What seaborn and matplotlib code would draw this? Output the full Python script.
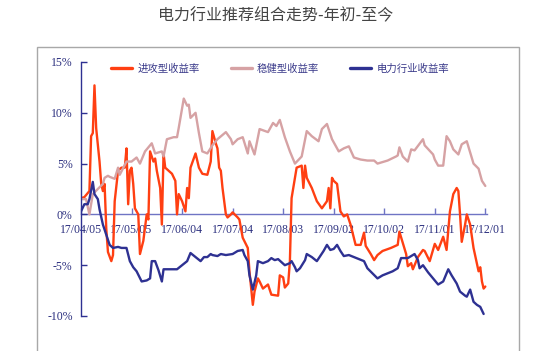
import numpy as np
import pandas as pd
import matplotlib
matplotlib.use("Agg")
import matplotlib.pyplot as plt
import matplotlib.dates as mdates
from matplotlib.patches import Rectangle
from matplotlib.ticker import FuncFormatter
import seaborn as sns

# ---------------- data (days since 2017-04-05, return in %) ----------------
start_date = "2017-04-05"

attack_days = [0, 2, 5, 6, 7, 8, 9, 11, 12, 13, 14, 15, 16, 18, 19, 20, 22, 24, 26, 27,
               28, 29, 30, 31, 32, 34, 35, 37, 39, 40, 41, 43, 44, 45, 47, 48, 49, 50, 52, 54,
               56, 57, 58, 60, 62, 63, 64, 65, 68, 70, 72, 75, 77, 78, 80, 81, 82, 83, 84, 86,
               87, 89, 90, 93, 94, 96, 99, 100, 102, 103, 105, 106, 108, 111, 113, 117, 118, 120, 121, 123,
               124, 125, 127, 128, 131, 132, 133, 134, 137, 140, 143, 146, 147, 148, 149, 150, 152, 154, 156, 158,
               160, 163, 166, 168, 169, 172, 174, 176, 179, 184, 188, 189, 191, 193, 194, 196, 197, 200, 203, 204,
               207, 210, 212, 215, 217, 219, 221, 223, 224, 225, 226, 228, 229, 231, 233, 235, 236, 237, 238, 239, 240]
attack_ret = [1.6, 1.7, 2.3, 7.7, 8.0, 12.7, 8.5, 5.2, 3.0, 2.3, 3.0, -1.4, -3.7, -4.6, -4.0, 1.3, 4.3, 4.6, 4.6, 6.5,
              1.0, 4.3, 4.6, 3.0, 0.6, 0.0, -3.9, -2.6, 0.0, -0.5, 6.2, 5.2, 5.5, 4.3, 2.6, -1.0, 6.0, 4.6, 4.3, 4.0,
              3.3, 0.0, 2.0, 1.3, 0.3, 2.6, 1.6, 4.6, 6.0, 4.6, 4.0, 3.9, 5.2, 8.2, 7.0, 6.5, 4.6, 4.3, 2.6, 0.0,
              -0.3, 0.0, 0.2, -0.3, -0.5, -2.3, -3.3, -5.6, -8.9, -7.6, -6.3, -6.6, -7.3, -6.9, -7.9, -8.0, -6.0, -6.2, -7.2, -6.8,
              -4.6, 1.6, 3.6, 4.6, 4.8, 2.6, 4.8, 3.6, 2.6, 1.3, 0.6, 1.3, 2.6, 0.6, 3.6, 3.3, 3.0, 0.3, -0.2, 0.0,
              -1.0, -3.0, -3.0, -1.8, -3.1, -3.9, -4.5, -4.0, -3.6, -3.3, -3.0, -1.7, -2.8, -3.9, -5.1, -4.8, -5.4, -4.2, -3.5, -3.6,
              -4.6, -2.9, -3.5, -2.2, -3.5, 0.3, 2.0, 2.6, 2.3, 0.0, -2.7, -1.0, 0.0, -1.0, -3.3, -4.8, -5.6, -5.2, -6.6, -7.3, -7.1]

steady_days = [0, 3, 5, 7, 10, 13, 14, 16, 17, 20, 22, 23, 27, 30, 33, 35, 38, 42, 44, 48,
               49, 51, 55, 57, 58, 61, 63, 64, 65, 68, 70, 72, 75, 78, 81, 86, 89, 90, 93, 96,
               99, 100, 103, 106, 111, 114, 116, 118, 121, 124, 127, 131, 134, 137, 141, 143, 146, 149, 153, 156,
               159, 162, 166, 170, 174, 176, 182, 187, 188, 189, 191, 194, 196, 198, 203, 204, 209, 210, 212, 215,
               217, 219, 221, 224, 226, 229, 231, 233, 236, 238, 240]
steady_ret = [1.5, 1.5, 0.0, 2.0, 2.5, 3.0, 3.6, 3.8, 3.7, 3.5, 4.6, 3.9, 5.2, 5.2, 5.6, 5.0, 6.2, 7.0, 6.0, 6.2,
              5.7, 7.4, 7.6, 7.6, 8.5, 11.4, 10.7, 10.8, 9.5, 10.0, 8.0, 6.2, 6.0, 6.8, 7.4, 8.1, 7.4, 6.9, 7.4, 7.6,
              6.0, 7.2, 5.9, 8.4, 8.1, 9.0, 8.7, 9.3, 7.6, 6.2, 5.0, 5.7, 8.2, 7.7, 7.2, 8.4, 8.9, 7.4, 6.2, 6.5,
              6.7, 5.6, 5.4, 5.3, 5.3, 5.0, 5.3, 5.7, 5.8, 6.6, 5.7, 5.2, 6.4, 6.3, 7.4, 6.8, 5.9, 5.4, 4.8, 4.8,
              7.7, 7.2, 6.4, 5.9, 6.9, 7.2, 6.1, 5.0, 4.5, 3.3, 2.8]

power_days = [0, 2, 4, 5, 7, 8, 10, 11, 13, 15, 17, 19, 22, 24, 27, 29, 31, 33, 36, 39,
              41, 42, 44, 46, 48, 49, 53, 57, 60, 63, 65, 68, 71, 73, 75, 77, 78, 81, 83, 86,
              90, 93, 96, 97, 99, 100, 102, 104, 105, 108, 111, 113, 115, 117, 119, 121, 124, 125, 127, 128,
              130, 133, 134, 137, 140, 142, 144, 146, 148, 150, 152, 154, 156, 159, 162, 165, 168, 170, 173, 176,
              179, 182, 185, 188, 190, 194, 196, 198, 200, 201, 203, 206, 209, 212, 215, 218, 220, 223, 225, 228,
              229, 231, 233, 235, 237, 239]
power_ret = [0.3, 1.0, 1.0, 1.5, 3.2, 2.0, 1.5, 0.5, -1.0, -2.0, -3.0, -3.3, -3.2, -3.3, -3.3, -4.6, -5.2, -5.6, -6.6, -6.5,
             -6.3, -4.6, -4.6, -5.5, -6.6, -5.4, -5.4, -5.4, -5.0, -4.6, -3.8, -4.2, -4.6, -4.2, -4.2, -3.9, -4.0, -4.1, -3.9, -4.0,
             -3.9, -3.6, -3.5, -4.0, -4.6, -6.0, -7.4, -6.0, -4.6, -4.8, -4.6, -4.3, -4.5, -4.4, -4.7, -5.0, -4.8, -4.6, -5.2, -5.6,
             -5.3, -4.5, -3.9, -4.2, -4.6, -4.1, -3.6, -3.0, -3.5, -3.4, -3.0, -3.6, -4.1, -4.0, -4.2, -4.4, -4.6, -5.3, -5.8, -6.3,
             -6.0, -5.8, -5.6, -5.3, -4.3, -4.3, -4.1, -3.9, -4.5, -5.3, -5.0, -5.7, -6.3, -6.9, -6.6, -5.4, -6.0, -6.8, -7.6, -8.0,
             -8.1, -7.4, -8.6, -8.9, -9.1, -9.8]

series_names = ["进攻型收益率", "稳健型收益率", "电力行业收益率"]
series_colors = ["#FF3F12", "#D6A2A4", "#2E3192"]
tick_labels = ["17/04/05", "17/05/05", "17/06/04", "17/07/04", "17/08/03",
               "17/09/02", "17/10/02", "17/11/01", "17/12/01"]
y_ticks = [-10, -5, 0, 5, 10, 15]
title = "电力行业推荐组合走势-年初-至今"

# ---------------- build long table ----------------
t0 = pd.Timestamp(start_date)
frames = []
for name, d, r in zip(series_names,
                      [attack_days, steady_days, power_days],
                      [attack_ret, steady_ret, power_ret]):
    frames.append(pd.DataFrame({"date": t0 + pd.to_timedelta(d, unit="D"),
                                "ret": r, "series": name}))
df = pd.concat(frames, ignore_index=True)

# ---------------- style ----------------
sns.set_style("white")
plt.rcParams["font.family"] = ["Noto Sans CJK SC", "DejaVu Sans"]

W, H = 559, 351
fig = plt.figure(figsize=(W / 100, H / 100), dpi=100)
ax = fig.add_axes([81 / W, 1 - 316 / H, (487 - 81) / W, (316 - 62) / H])

sns.lineplot(data=df, x="date", y="ret", hue="series", hue_order=series_names,
             palette=dict(zip(series_names, series_colors)), estimator=None,
             sort=True, linewidth=1.7, ax=ax, legend=True)

navy = "#2E3192"
tick_navy = "#2B2F7F"

ax.set_ylim(-10, 15)
ax.set_xlim(t0, t0 + pd.Timedelta(days=241))
ax.set_yticks(y_ticks)
ax.yaxis.set_major_formatter(FuncFormatter(lambda v, p: f"{v:.0f}%"))
tick_dates = pd.to_datetime(tick_labels, format="%y/%m/%d")
ax.set_xticks(tick_dates)
ax.set_xticklabels(tick_labels)
ax.set_xlabel("")
ax.set_ylabel("")

for s in ["top", "right"]:
    ax.spines[s].set_visible(False)
ax.spines["left"].set_color(navy)
ax.spines["left"].set_linewidth(1.0)
ax.spines["bottom"].set_position(("data", 0))
ax.spines["bottom"].set_color("#6F74C4")
ax.spines["bottom"].set_linewidth(1.0)
ax.spines["bottom"].set_zorder(0.5)

ax.tick_params(axis="y", direction="in", length=4, width=1, color=navy,
               labelsize=8.5, labelcolor=tick_navy, pad=6, left=True)
ax.tick_params(axis="x", direction="in", length=4, width=1, color="#6F74C4",
               labelsize=8.5, labelcolor=tick_navy, pad=7, bottom=True)
for lab in ax.get_xticklabels() + ax.get_yticklabels():
    lab.set_fontfamily(["Liberation Serif", "DejaVu Serif"])

ax.legend(loc="center", bbox_to_anchor=(280 / W, 1 - 69 / H), bbox_transform=fig.transFigure,
          ncol=3, frameon=False, handlelength=2.0, handletextpad=0.5, columnspacing=3.0,
          prop={"size": 7.5}, labelcolor="#3A3A8A")
for line in ax.get_legend().get_lines():
    line.set_linewidth(2.4)

fig.text(276 / W, 1 - 16 / H, title, ha="center", va="center", fontsize=11.5, color="#444444")

fig.patches.append(Rectangle((37 / W, -0.02), (519 - 37) / W, (1 - 47 / H) + 0.02,
                             transform=fig.transFigure, fill=False, ec="#A8A8A8", lw=1.0))

fig.savefig("out.png", dpi=100)
